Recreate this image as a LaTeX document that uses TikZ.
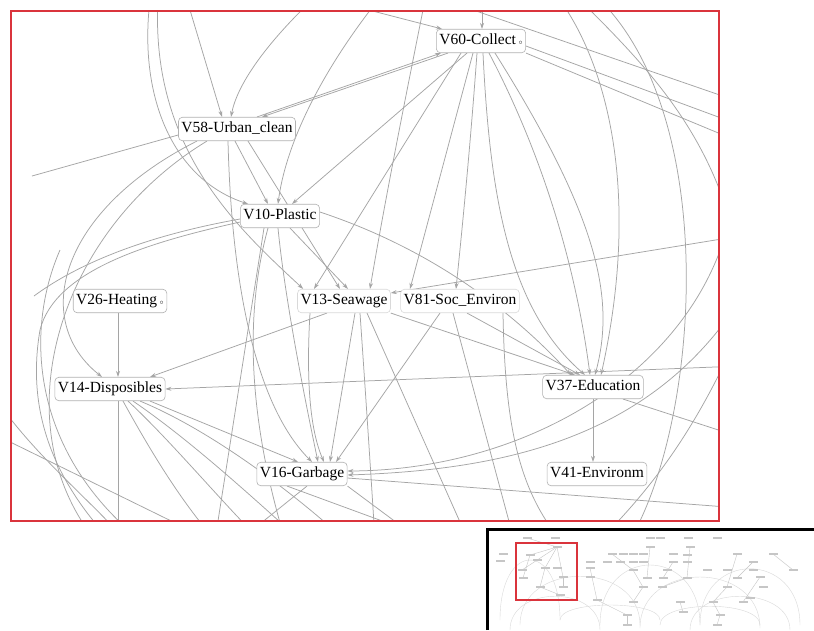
\documentclass[tikz,border=0pt]{standalone}
\usepackage{fontspec}
\setmainfont{Liberation Serif}
\usetikzlibrary{arrows.meta}
\pgfdeclarelayer{bg}
\pgfsetlayers{bg,main}
\definecolor{frame}{RGB}{218,52,60}
\definecolor{edgec}{RGB}{165,165,165}
\tikzset{
  nd/.style={draw=gray!60, line width=0.6pt, rounded corners=4pt, fill=white,
    inner xsep=3pt, inner ysep=4.5pt, text height=11pt, text depth=3.5pt,
    font=\fontsize{15.5}{17}\selectfont},
  ndl/.style={nd, draw=gray!30},
  ed/.style={draw=edgec, line width=0.75pt},
  ar/.style={ed, -{Stealth[length=6pt,width=4pt]}},
  mini/.style={fill=gray!45, minimum width=9pt, minimum height=2.5pt, inner sep=0pt},
  miniedge/.style={draw=gray!30, line width=0.4pt}
}
\begin{document}
\begin{tikzpicture}[x=1pt,y=-1pt]
\useasboundingbox (0,0) rectangle (814,630);

% nodes
\node[nd] (v60) at (481,41) {V60-Collect\,{\scriptsize$\circ$}};
\node[nd] (v58) at (237,129) {V58-Urban\_clean};
\node[nd] (v10) at (280,216) {V10-Plastic};
\node[nd] (v26) at (120,301) {V26-Heating\,{\scriptsize$\circ$}};
\node[ndl] (v13) at (344,301) {V13-Seawage};
\node[ndl] (v81) at (460,301) {V81-Soc\_Environ};
\node[nd] (v14) at (110,389) {V14-Disposibles};
\node[nd] (v37) at (593,387) {V37-Education};
\node[nd] (v41) at (597,474) {V41-Environm};
\node[nd] (v16) at (302,474) {V16-Garbage};

\begin{pgfonlayer}{bg}
\fill[white] (0,0) rectangle (814,630);
\begin{scope}
\clip (12,12) rectangle (718,520);
% off-screen and free endpoints
\coordinate (t150) at (150,0);
\coordinate (t158) at (158,0);
\coordinate (t187) at (187,0);
\coordinate (t312) at (312,0);
\coordinate (t378) at (378,0);
\coordinate (t330) at (330,0);
\coordinate (t425) at (425,0);
\coordinate (t482) at (482,0);
\coordinate (t560) at (560,0);
\coordinate (t580) at (580,0);
\coordinate (t600) at (600,0);
\coordinate (r125) at (740,125);
\coordinate (r142) at (740,142);
\coordinate (r120) at (735,120);
\coordinate (r236) at (740,236);
\coordinate (r300) at (740,300);
\coordinate (r330) at (740,330);
\coordinate (r366) at (740,366);
\coordinate (r437) at (740,437);
\coordinate (r508) at (740,508);
\coordinate (l176) at (32,176);
\coordinate (l296) at (34,296);
\coordinate (l405) at (0,405);
\coordinate (l437) at (0,437);

% top
\draw[ar] (t150) .. controls (138,100) and (175,180) .. ([xshift=8pt]v10.north west);
\draw[ar] (t158) .. controls (150,150) and (240,230) .. ([xshift=6pt]v13.north west);
\draw[ar] (t187) -- ([xshift=-15pt]v58.north);
\draw[ar] (t312) .. controls (265,45) and (237,85) .. ([xshift=-6pt]v58.north);
\draw[ar] (t378) .. controls (315,80) and (285,150) .. ([xshift=-2pt]v10.north);
\draw[ar] (t330) -- ([xshift=6pt]v60.north west);
\draw[ar] (t482) -- ([xshift=1pt]v60.north);
\draw[ar] (t425) .. controls (405,100) and (385,200) .. ([xshift=26pt]v13.north);
\draw[ed] (450,2) -- (740,102);
\draw[ar] (t560) .. controls (610,70) and (640,200) .. ([xshift=8pt]v37.north);
\draw[ed] (t580) .. controls (640,60) and (700,120) .. (730,220);
\draw[ed] (t600) .. controls (720,120) and (700,420) .. (630,540);

% from V60
\draw[ar] ([xshift=-33pt]v60.south) -- ([xshift=25pt]v58.north);
\draw[ar] ([xshift=20pt]v58.north) -- ([xshift=-40pt]v60.south);
\draw[ar] ([xshift=-14pt]v60.south) -- ([xshift=12pt]v10.north);
\draw[ar] ([xshift=-20pt]v60.south) -- ([xshift=-30pt]v13.north);
\draw[ar] ([xshift=-8pt]v60.south) -- ([xshift=-50pt]v81.north);
\draw[ar] ([xshift=-4pt]v60.south) .. controls (470,150) and (462,230) .. ([xshift=-4pt]v81.north);
\draw[ar] ([xshift=2pt]v60.south) .. controls (490,200) and (510,310) .. ([xshift=-8pt]v37.north);
\draw[ar] ([xshift=8pt]v60.south) .. controls (540,150) and (575,260) .. ([xshift=-3pt]v37.north);
\draw[ar] ([xshift=14pt]v60.south) .. controls (600,220) and (615,300) .. ([xshift=2pt]v37.north);
\draw[ed] ([yshift=-5pt]v60.east) -- (r125);
\draw[ed] (v60.south east) -- (r142);

% right side
\draw[ar] (r120) .. controls (760,330) and (560,470) .. ([yshift=3pt]v16.east);
\draw[ar] (r300) .. controls (650,440) and (500,470) .. ([yshift=-1pt]v16.east);
\draw[ar] (r236) -- ([yshift=8pt]v13.east);
\draw[ar] (r366) -- (v14.east);
\draw[ed] (600,540) .. controls (660,480) and (700,420) .. (r330);

% V10, V13, V81 to V37
\draw[ar] ([yshift=4pt]v10.east) .. controls (450,255) and (530,330) .. ([xshift=-22pt]v37.north);
\draw[ar] (v13.south east) -- ([xshift=-18pt]v37.north);
\draw[ar] ([xshift=7pt]v81.south) -- ([xshift=-13pt]v37.north);

% from V58
\draw[ar] ([xshift=-40pt]v58.south) .. controls (60,210) and (30,320) .. ([xshift=-8pt]v14.north);
\draw[ed] ([xshift=-30pt]v58.south) .. controls (60,230) and (0,420) .. (95,540);
\draw[ed] ([yshift=-6pt]v58.west) -- (l176);
\draw[ar] ([xshift=-2pt]v58.south) -- ([xshift=-12pt]v10.north);
\draw[ar] ([xshift=-9pt]v58.south) .. controls (232,300) and (260,410) .. ([xshift=10pt]v16.north);
\draw[ar] ([xshift=11pt]v58.south) -- ([xshift=-4pt]v13.north);

% from V10
\draw[ed] ([yshift=-3pt]v10.west) .. controls (150,235) and (80,262) .. (l296);
\draw[ed] ([yshift=-6pt]v10.west) .. controls (150,242) and (55,270) .. (40,330) .. controls (28,400) and (45,470) .. (110,540);
\draw[ar] ([xshift=10pt]v10.south) -- ([xshift=4pt]v13.north);
\draw[ar] ([xshift=-2pt]v10.south) .. controls (285,300) and (305,400) .. ([xshift=16pt]v16.north);
\draw[ed] ([xshift=-12pt]v10.south) .. controls (240,330) and (255,440) .. (285,540);
\draw[ed] ([xshift=-16pt]v10.south) -- (215,540);

% from V13, V81
\draw[ar] ([xshift=-17pt]v13.south) -- ([xshift=40pt]v14.north);
\draw[ar] ([xshift=-34pt]v13.south) .. controls (306,380) and (310,430) .. ([xshift=22pt]v16.north);
\draw[ar] ([xshift=11pt]v13.south) -- ([xshift=28pt]v16.north);
\draw[ed] ([xshift=16pt]v13.south) .. controls (366,400) and (370,460) .. (375,540);
\draw[ed] ([xshift=23pt]v13.south) -- (468,540);
\draw[ar] ([xshift=-20pt]v81.south) -- ([xshift=34pt]v16.north);
\draw[ed] ([xshift=-7pt]v81.south) -- (514,540);
\draw[ed] ([xshift=43pt]v81.south) .. controls (505,430) and (520,490) .. (560,540);

% V26, V14
\draw[ar] ([xshift=-2pt]v26.south) -- ([xshift=8pt]v14.north);
\draw[ar] ([xshift=40pt]v14.south) -- ([xshift=-4pt]v16.north);
\draw[ed] ([xshift=8pt]v14.south) -- (118,540);
\draw[ed] ([xshift=13pt]v14.south) .. controls (150,450) and (180,500) .. (215,540);
\draw[ed] ([xshift=18pt]v14.south) .. controls (170,440) and (220,500) .. (260,540);
\draw[ed] ([xshift=23pt]v14.south) .. controls (190,440) and (250,495) .. (300,540);
\draw[ed] ([xshift=30pt]v14.south) .. controls (210,430) and (290,490) .. (345,540);
\draw[ed] (l405) .. controls (40,460) and (90,500) .. (125,540);
\draw[ed] (l437) -- (210,540);
\draw[ed] (60,250) .. controls (25,330) and (30,450) .. (140,540);

% V16, V37
\draw[ed] ([xshift=5pt]v16.south) -- (240,540);
\draw[ed] ([xshift=-15pt]v16.south) -- (434,540);
\draw[ed] ([yshift=-4pt]v16.east) -- (r508);
\draw[ed] (v16.south east) -- (420,540);
\draw[ar] (v37.south) -- ([xshift=-4pt]v41.north);
\draw[ed] ([xshift=30pt]v37.south) -- (r437);
\end{scope}
\end{pgfonlayer}

% frame
\draw[frame, line width=2.5pt] (11,11) rectangle (719,521);

% minimap
\begin{scope}
\clip (489,531) rectangle (814,630);
\foreach \a/\b/\c/\d in {500/620/560/540, 520/625/640/560, 600/625/700/545, 640/628/760/560, 700/625/800/550, 560/620/660/600, 660/625/760/600, 510/630/600/585, 690/630/790/585}
  \draw[miniedge] (\a,\b) .. controls (\a,\d) and (\c,\d) .. (\c,\b);
\foreach \a/\b/\c/\d in {527/538/557/547, 557/547/530/555, 557/547/522/570, 557/547/545/568, 557/547/563/577, 530/555/523/578, 545/568/540/587, 563/577/563/587, 540/587/560/595, 612/554/633/570, 650/547/647/578, 690/547/687/578, 673/562/663/578, 633/570/643/587, 687/578/662/587, 737/554/727/587, 773/554/793/570, 753/562/737/578, 760/577/743/602, 727/587/713/602, 643/587/633/602, 590/568/597/600, 597/600/627/615, 680/602/683/612, 720/615/713/602, 627/615/627/625, 717/625/720/615}
  \draw[miniedge, draw=gray!45] (\a,\b) -- (\c,\d);
\foreach \p in {(527,538),(555,538),(557,547),(503,554),(530,555),(500,561),(537,560),(522,570),(545,568),(557,568),(523,578),(563,577),(540,587),(563,587),(560,595),(650,538),(660,538),(688,538),(717,538),(612,554),(623,554),(633,554),(643,554),(673,554),(687,555),(650,547),(690,547),(590,562),(607,562),(620,562),(633,562),(643,562),(673,562),(687,562),(737,554),(773,554),(753,562),(793,570),(590,568),(633,570),(667,570),(707,570),(727,570),(753,570),(590,577),(647,578),(663,578),(687,578),(737,578),(760,577),(643,587),(662,587),(727,587),(763,587),(597,600),(633,602),(680,602),(713,602),(743,602),(750,598),(627,615),(683,612),(720,615),(627,625),(717,625)}
  \node[mini] at \p {};
\end{scope}
\draw[frame, line width=1.2pt] (516,543) rectangle (577,600);
\draw[black, line width=3pt] (487,630) -- (487,529) -- (814,529);
\end{tikzpicture}
\end{document}
